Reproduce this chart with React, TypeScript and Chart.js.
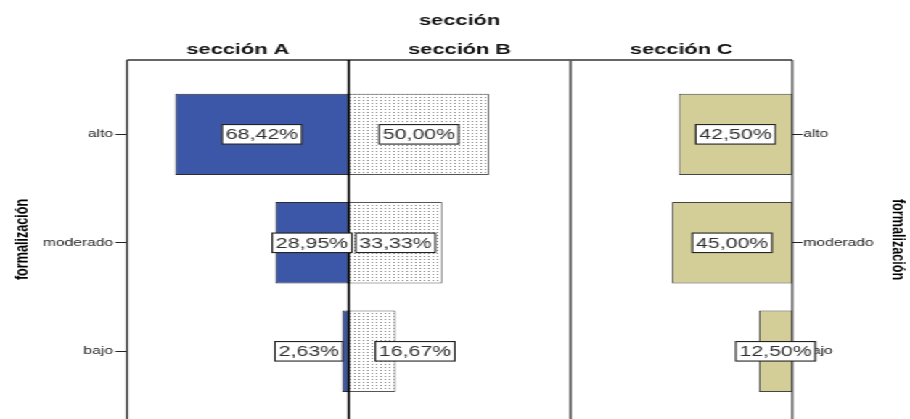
import { useEffect, useRef } from 'react';
import { Chart, registerables } from 'chart.js';

Chart.register(...registerables);

// Rows of the pyramid (top to bottom)
const levels = ['alto', 'moderado', 'bajo'];
// Panel headers
const sections = ['sección A', 'sección B', 'sección C'];
// Counts per level in each section
const countsA = [26, 11, 1];
const countsB = [21, 14, 7];
const countsC = [17, 18, 5];

const groupTitle = 'sección';
const axisTitle = 'formalización';

// Count range spanned by one panel
const panelMax = 33.2;

// Layout constants (drawing units before the horizontal scaling)
const BASE_W = 627;
const BASE_H = 419;
const STRETCH = 910 / BASE_W;
const FONT = 'Liberation Sans, Arial, sans-serif';

const totalOf = (arr: number[]) => arr.reduce((a, b) => a + b, 0);
const pctText = (v: number, total: number) =>
  ((v / total) * 100).toFixed(2).replace('.', ',') + '%';

const panelPlugin = {
  id: 'panels',
  afterDatasetsDraw(chart: any) {
    const { ctx, chartArea: ca, scales } = chart;
    const xs = [0, 1, 2, 3].map((k) => scales.x.getPixelForValue(k * panelMax));

    ctx.save();
    // frame top
    ctx.strokeStyle = '#333';
    ctx.lineWidth = 1.5;
    ctx.beginPath();
    ctx.moveTo(xs[0], ca.top);
    ctx.lineTo(xs[3], ca.top);
    ctx.stroke();

    // panel borders
    const lines = [
      { c: '#3a3a3a', w: 1.4 },
      { c: '#000000', w: 1.4 },
      { c: '#555555', w: 1.6 },
      { c: '#1e1e1e', w: 1.1 },
    ];
    lines.forEach((l, i) => {
      ctx.strokeStyle = l.c;
      ctx.lineWidth = l.w;
      ctx.beginPath();
      ctx.moveTo(xs[i], ca.top);
      ctx.lineTo(xs[i], ca.bottom);
      ctx.stroke();
    });

    // value labels
    const size = 14.7;
    ctx.font = `${size}px ${FONT}`;
    const padX = 2.5;
    const boxH = 19.5;
    const boxes: any[] = [];
    chart.data.datasets.forEach((ds: any, di: number) => {
      const meta = chart.getDatasetMeta(di);
      meta.data.forEach((el: any, i: number) => {
        const text = ds.labelsText[i];
        const w = ctx.measureText(text).width + padX * 2;
        boxes.push({ row: i, cx: (el.x + el.base) / 2, cy: el.y, w, text });
      });
    });
    // push apart labels of neighbouring panels that would overlap
    levels.forEach((_, r) => {
      const row = boxes.filter((b) => b.row === r).sort((a, b) => a.cx - b.cx);
      for (let i = 0; i + 1 < row.length; i++) {
        const a = row[i];
        const b = row[i + 1];
        if (a.cx + a.w / 2 + 1 > b.cx - b.w / 2) {
          a.cx -= a.w * 0.54;
          b.cx += b.w * 0.54;
        }
      }
    });
    ctx.textAlign = 'center';
    ctx.textBaseline = 'middle';
    boxes.forEach((b) => {
      const left = b.cx - b.w / 2;
      const top = b.cy - boxH / 2;
      ctx.fillStyle = '#ffffff';
      ctx.fillRect(left, top, b.w, boxH);
      ctx.strokeStyle = '#222';
      ctx.lineWidth = 1.1;
      ctx.strokeRect(left, top, b.w, boxH);
      ctx.fillStyle = '#303030';
      ctx.fillText(b.text, b.cx, b.cy + 1);
    });
    ctx.restore();
  },
  afterDraw(chart: any) {
    const { ctx, chartArea: ca, scales } = chart;
    ctx.save();
    ctx.fillStyle = '#111';
    ctx.textAlign = 'center';
    ctx.textBaseline = 'alphabetic';
    ctx.font = `bold 15px ${FONT}`;
    ctx.fillText(groupTitle, (ca.left + ca.right) / 2, 25);
    sections.forEach((s, i) => {
      ctx.fillText(s, scales.x.getPixelForValue((i + 0.5) * panelMax), 54);
    });
    ctx.restore();
  },
};

const rowTicks = (scale: any) => {
  scale.ticks = levels.map((_, i) => ({ value: i }));
};

export default function App() {
  const ref = useRef<HTMLCanvasElement>(null);

  useEffect(() => {
    const canvas = ref.current;
    if (!canvas) return;

    // dotted fill for the middle panel
    const cell = document.createElement('canvas');
    cell.width = 3;
    cell.height = 3;
    const cctx = cell.getContext('2d')!;
    cctx.fillStyle = '#ffffff';
    cctx.fillRect(0, 0, 3, 3);
    cctx.fillStyle = '#858585';
    cctx.fillRect(1, 1, 1, 1);
    const dotted = canvas.getContext('2d')!.createPattern(cell, 'repeat');

    const totA = totalOf(countsA);
    const totB = totalOf(countsB);
    const totC = totalOf(countsC);

    const common = {
      borderWidth: 1,
      borderSkipped: false,
      grouped: false,
      barPercentage: 0.75,
      categoryPercentage: 1,
      xAxisID: 'x',
      yAxisID: 'y',
    };

    const yMin = -0.685;
    const yMax = 2.624;

    const yAxis = (position: 'left' | 'right') => ({
      type: 'linear',
      position,
      reverse: true,
      offset: false,
      min: yMin,
      max: yMax,
      afterBuildTicks: rowTicks,
      afterFit: (s: any) => {
        s.width = position === 'left' ? 87.5 : BASE_W - 545.9;
        s.paddingTop = 0;
        s.paddingBottom = 0;
      },
      ticks: {
        callback: (v: any) => levels[v] ?? '',
        font: { family: FONT, size: 10.8 },
        color: '#222',
        padding: position === 'left' ? 1.5 : 0.5,
      },
      grid: {
        offset: false,
        drawOnChartArea: false,
        drawTicks: true,
        tickLength: position === 'left' ? 8 : 7,
        tickColor: '#222',
        tickWidth: 1,
      },
      border: { display: false },
      title: {
        display: true,
        text: axisTitle,
        color: '#000',
        font: { family: FONT, size: 12.6, weight: 'bold' },
        padding: { top: position === 'left' ? 7.8 : 1.2, bottom: 0 },
      },
    });

    const chart = new Chart(canvas, {
      type: 'bar',
      data: {
        datasets: [
          {
            ...common,
            label: sections[0],
            data: countsA.map((v, i) => ({ x: [panelMax - v, panelMax], y: i })),
            labelsText: countsA.map((v) => pctText(v, totA)),
            backgroundColor: '#3D57A8',
            borderColor: '#2c2c2c',
          },
          {
            ...common,
            label: sections[1],
            data: countsB.map((v, i) => ({ x: [panelMax, panelMax + v], y: i })),
            labelsText: countsB.map((v) => pctText(v, totB)),
            backgroundColor: dotted,
            borderColor: '#555',
          },
          {
            ...common,
            label: sections[2],
            data: countsC.map((v, i) => ({ x: [3 * panelMax - v, 3 * panelMax], y: i })),
            labelsText: countsC.map((v) => pctText(v, totC)),
            backgroundColor: '#D3CE97',
            borderColor: '#444',
          },
        ],
      } as any,
      options: {
        indexAxis: 'y',
        animation: false,
        responsive: true,
        maintainAspectRatio: false,
        layout: { padding: { top: 60, left: 0, right: 0, bottom: 0 } },
        plugins: { legend: { display: false }, tooltip: { enabled: false } },
        scales: {
          x: { type: 'linear', display: false, min: 0, max: 3 * panelMax },
          y: yAxis('left'),
          y2: yAxis('right'),
        },
      } as any,
      plugins: [panelPlugin],
    });

    return () => chart.destroy();
  }, []);

  return (
    <div
      style={{
        position: 'fixed',
        left: 0,
        top: 0,
        width: BASE_W,
        height: BASE_H,
        background: '#fff',
        transform: `scaleX(${STRETCH})`,
        transformOrigin: '0 0',
      }}
    >
      <canvas ref={ref} />
    </div>
  );
}
